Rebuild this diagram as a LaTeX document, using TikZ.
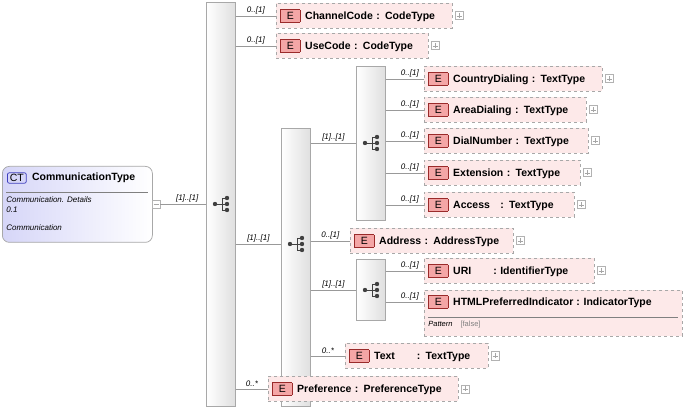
\documentclass[tikz,border=0pt]{standalone}
\usepackage{fontspec}
\setmainfont{Liberation Sans}
\usetikzlibrary{positioning}
\definecolor{efill}{HTML}{FDE9E9}
\definecolor{ebadge}{HTML}{F4A6A6}
\definecolor{eborder}{HTML}{9A2A2A}
\definecolor{boxline}{HTML}{A8A8A8}
\definecolor{ctfill}{HTML}{D6D6F8}
\tikzset{every picture/.style={line width=0.75pt}}
\tikzset{
  elem/.style={draw=boxline, dashed, fill=efill, anchor=north west, minimum height=25pt,
    inner xsep=4pt, inner ysep=3pt, text width=#1-8pt, font=\bfseries\fontsize{10.5}{12}\selectfont, align=left},
  seqbox/.style={draw=boxline, solid, left color=white, right color=gray!25, anchor=north west,
    minimum width=29pt, inner sep=0pt},
  plusbox/.style={draw=gray!60, solid, fill=white, minimum size=8pt, inner sep=0pt,
    path picture={\draw[gray!70,line width=0.4pt] ([xshift=1.5pt]path picture bounding box.west) -- ([xshift=-1.5pt]path picture bounding box.east)
      ([yshift=-1.5pt]path picture bounding box.north) -- ([yshift=1.5pt]path picture bounding box.south);}},
  card/.style={font=\itshape\fontsize{8}{9}\selectfont, above, inner sep=1.5pt},
  conn/.style={draw=gray!80, line width=0.6pt},
  seqicon/.pic={
    \fill[black!75] (-7,0) circle (2.2pt);
    \draw[black!75,line width=0.8pt] (-7,0) -- (0,0) (0,-6) -- (0,6)
      (0,-6) -- (5,-6) (0,0) -- (5,0) (0,6) -- (5,6);
    \foreach \yy in {-6,0,6} \fill[black!75] (5,\yy) circle (2.2pt);
  }
}
\newcommand{\ebadge}{{\setlength{\fboxsep}{2.5pt}\fcolorbox{eborder}{ebadge}{\makebox[14pt]{\mdseries E}}}\hspace{5pt}}
\begin{document}
\begin{tikzpicture}[x=1pt,y=-1pt]
\useasboundingbox (0,0) rectangle (685,411);

% complex type
\node[draw=boxline, rounded corners=7pt, left color=ctfill, right color=white, anchor=north west,
  minimum width=150pt, minimum height=76pt] (ct) at (2,166) {};
\node[draw=blue!50!gray, fill=ctfill, rounded corners=2pt, inner xsep=2.5pt, inner ysep=1.5pt, anchor=west,
  font=\fontsize{10.5}{11}\selectfont] (ctbadge) at (7,178) {CT};
\node[anchor=west, font=\bfseries\fontsize{10.5}{11}\selectfont, inner sep=2pt] (ctname) at (ctbadge.east) {\hspace{3pt}CommunicationType};
\draw[gray] (6,192) -- (148,192);
\node[anchor=north west, font=\itshape\fontsize{8}{10.5}\selectfont, align=left, inner sep=0pt] (ctdoc)
  at (6,196) {Communication. Details\\0.1\\[7pt]Communication};
\node[plusbox, path picture={\draw[gray!70,line width=0.4pt] ([xshift=1.5pt]path picture bounding box.west) -- ([xshift=-1.5pt]path picture bounding box.east);}] (ctminus) at (156,204) {};

% sequences
\node[seqbox, minimum height=404pt] (seqA) at (206,2) {};
\pic at (222,204) {seqicon};
\node[seqbox, minimum height=278pt] (seqB) at (281,128) {};
\pic at (297,244) {seqicon};
\node[seqbox, minimum height=154pt] (seqC) at (356,66) {};
\pic at (372,143) {seqicon};
\node[seqbox, minimum height=61pt] (seqD) at (356,259) {};
\pic at (372,290) {seqicon};

% elements
\node[elem=176pt] (chan) at (276,3) {\ebadge ChannelCode : CodeType};
\node[elem=152pt] (use) at (276,33) {\ebadge UseCode : CodeType};
\node[elem=178pt] (country) at (424,66) {\ebadge CountryDialing : TextType};
\node[elem=162pt] (area) at (424,97) {\ebadge AreaDialing : TextType};
\node[elem=164pt] (dial) at (424,128) {\ebadge DialNumber : TextType};
\node[elem=156pt] (ext) at (424,160) {\ebadge Extension : TextType};
\node[elem=150pt] (acc) at (424,192) {\ebadge Access\ \ \ : TextType};
\node[elem=163pt] (addr) at (350,228) {\ebadge Address : AddressType};
\node[elem=170pt] (uri) at (424,258) {\ebadge URI\hspace{22pt}: IdentifierType};
\node[elem=258pt, minimum height=46pt] (html) at (424,290) {};
\node[anchor=west, inner sep=0pt, font=\bfseries\fontsize{10.5}{12}\selectfont] (htmlname) at (428,302) {\ebadge HTMLPreferredIndicator : IndicatorType};
\draw[gray] (428,317) -- (678,317);
\node[anchor=west, inner sep=0pt, font=\fontsize{7.5}{8}\selectfont] (htmlpat) at (428,325) {\textit{Pattern}\hspace{8pt}\textcolor{gray}{[false]}};
\node[elem=143pt] (text) at (345,343) {\ebadge Text\hspace{22pt}: TextType};
\node[elem=190pt] (pref) at (268,376) {\ebadge Preference : PreferenceType};

% expand boxes
\foreach \e in {chan,use,country,area,dial,ext,acc,addr,uri,text,pref}
  \node[plusbox, right=2pt of \e] (\e plus) {};

% connectors
\draw[conn] (ctminus.east) -- (seqA.west |- ctminus) node[card, midway, xshift=4pt] {[1]..[1]};
\draw[conn] (seqA.east |- chan) -- (chan.west) node[card, midway] {0..[1]};
\draw[conn] (seqA.east |- use) -- (use.west) node[card, midway] {0..[1]};
\draw[conn] (seqA.east |- 0,244) coordinate (jB) -- (jB -| seqB.west) node[card, midway] {[1]..[1]};
\draw[conn] (seqA.east |- pref) -- (pref.west) node[card, midway] {0..*};
\draw[conn] (seqB.east |- 0,143) coordinate (jC) -- (jC -| seqC.west) node[card, midway] {[1]..[1]};
\draw[conn] (seqB.east |- addr) -- (addr.west) node[card, midway] {0..[1]};
\draw[conn] (seqB.east |- 0,290) coordinate (jD) -- (jD -| seqD.west) node[card, midway] {[1]..[1]};
\draw[conn] (seqB.east |- text) -- (text.west) node[card, midway] {0..*};
\foreach \e in {country,area,dial,ext,acc,uri}
  \draw[conn] (seqC.east |- \e) -- (\e.west) node[card, midway, xshift=5pt] {0..[1]};
\draw[conn] (seqD.east |- htmlname) -- (html.west |- htmlname) node[card, midway, xshift=5pt] {0..[1]};
\end{tikzpicture}
\end{document}
